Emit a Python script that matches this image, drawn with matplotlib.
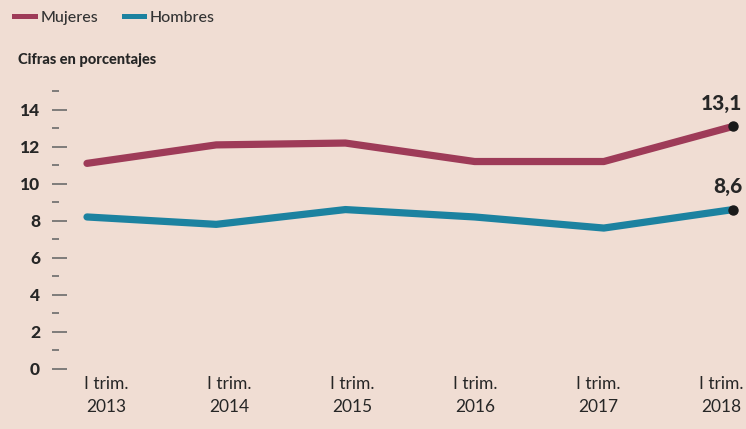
import matplotlib
matplotlib.use("Agg")
import matplotlib.pyplot as plt
from matplotlib.lines import Line2D

# ---- data ----
periods = ["I trim.\n2013", "I trim.\n2014", "I trim.\n2015",
           "I trim.\n2016", "I trim.\n2017", "I trim.\n2018"]
mujeres = [11.1, 12.1, 12.2, 11.2, 11.2, 13.1]
hombres = [8.2, 7.8, 8.6, 8.2, 7.6, 8.6]
end_labels = ["13,1", "8,6"]
major_ticks = [0, 2, 4, 6, 8, 10, 12, 14]
minor_ticks = [1, 3, 5, 7, 9, 11, 13, 15]

RED = "#9e3b58"
BLUE = "#1c82a0"
BG = "#f0ddd3"
TXT = "#262626"
FONT = ["Lato", "DejaVu Sans"]

W, H = 746, 429
fig = plt.figure(figsize=(W / 100, H / 100), dpi=100, facecolor=BG)

# main axes (pixel layout)
L, R, T, B = 52, 742, 85, 380
ax = fig.add_axes([L / W, 1 - B / H, (R - L) / W, (B - T) / H])
ax.set_facecolor("none")
x = list(range(len(periods)))
xpx0, xstep = 87, 129.2
ax.set_xlim(-(xpx0 - L) / xstep, (len(x) - 1) + (R - 733) / xstep)
y0px, ystep = 368.5, 18.48
ax.set_ylim(-(B - y0px) / ystep, (y0px - T) / ystep)

ax.plot(x, mujeres, color=RED, lw=5.2, solid_capstyle="round", solid_joinstyle="round", zorder=3)
ax.plot(x, hombres, color=BLUE, lw=5.2, solid_capstyle="round", solid_joinstyle="round", zorder=3)
ax.plot([x[-1]], [mujeres[-1]], "o", color="#1a1a1a", ms=6.5, zorder=4)
ax.plot([x[-1]], [hombres[-1]], "o", color="#1a1a1a", ms=6.5, zorder=4)

for val, lab in zip([mujeres[-1], hombres[-1]], end_labels):
    ax.annotate(lab, (x[-1], val), xytext=(9, 23), textcoords="offset pixels",
                ha="right", va="center", fontsize=15, fontweight="black",
                color=TXT, family=FONT, annotation_clip=False)

for s in ax.spines.values():
    s.set_visible(False)
ax.set_xticks([])
ax.set_yticks(major_ticks)
ax.set_yticks(minor_ticks, minor=True)
ax.set_yticklabels([str(v) for v in major_ticks], fontsize=12.5,
                   fontweight="black", color=TXT, family=FONT)
ax.tick_params(axis="y", which="major", direction="in", length=10.8,
               width=1.2, color="#6b6b6b", pad=8.6)
ax.tick_params(axis="y", which="minor", direction="in", length=5.0,
               width=1.2, color="#6b6b6b")

# x labels on a separate strip
lx0, lx1 = 106, 721
ax2 = fig.add_axes([lx0 / W, 1 - 376 / H, (lx1 - lx0) / W, 0.001])
ax2.set_facecolor("none")
ax2.set_xlim(0, len(periods) - 1)
ax2.set_xticks(x)
ax2.set_xticklabels(periods, fontsize=12.5, color=TXT, family=FONT,
                    linespacing=1.5)
ax2.tick_params(axis="x", length=0, pad=0)
ax2.set_yticks([])
for s in ax2.spines.values():
    s.set_visible(False)

# legend
handles = [Line2D([], [], color=RED, lw=3.6), Line2D([], [], color=BLUE, lw=3.6)]
fig.legend(handles, ["Mujeres", "Hombres"], loc="center left",
           bbox_to_anchor=(14 / W, 1 - 18 / H), ncol=2, frameon=False,
           borderpad=0, borderaxespad=0, handlelength=1.3, handletextpad=0.35,
           columnspacing=1.6, prop={"family": FONT, "size": 11.5, "weight": "medium"},
           labelcolor="#333333")

fig.text(18 / W, 1 - 60 / H, "Cifras en porcentajes", fontsize=10.5,
         fontweight="black", color=TXT, family=FONT, ha="left", va="center")

fig.savefig("out.png", dpi=100, facecolor=BG)
